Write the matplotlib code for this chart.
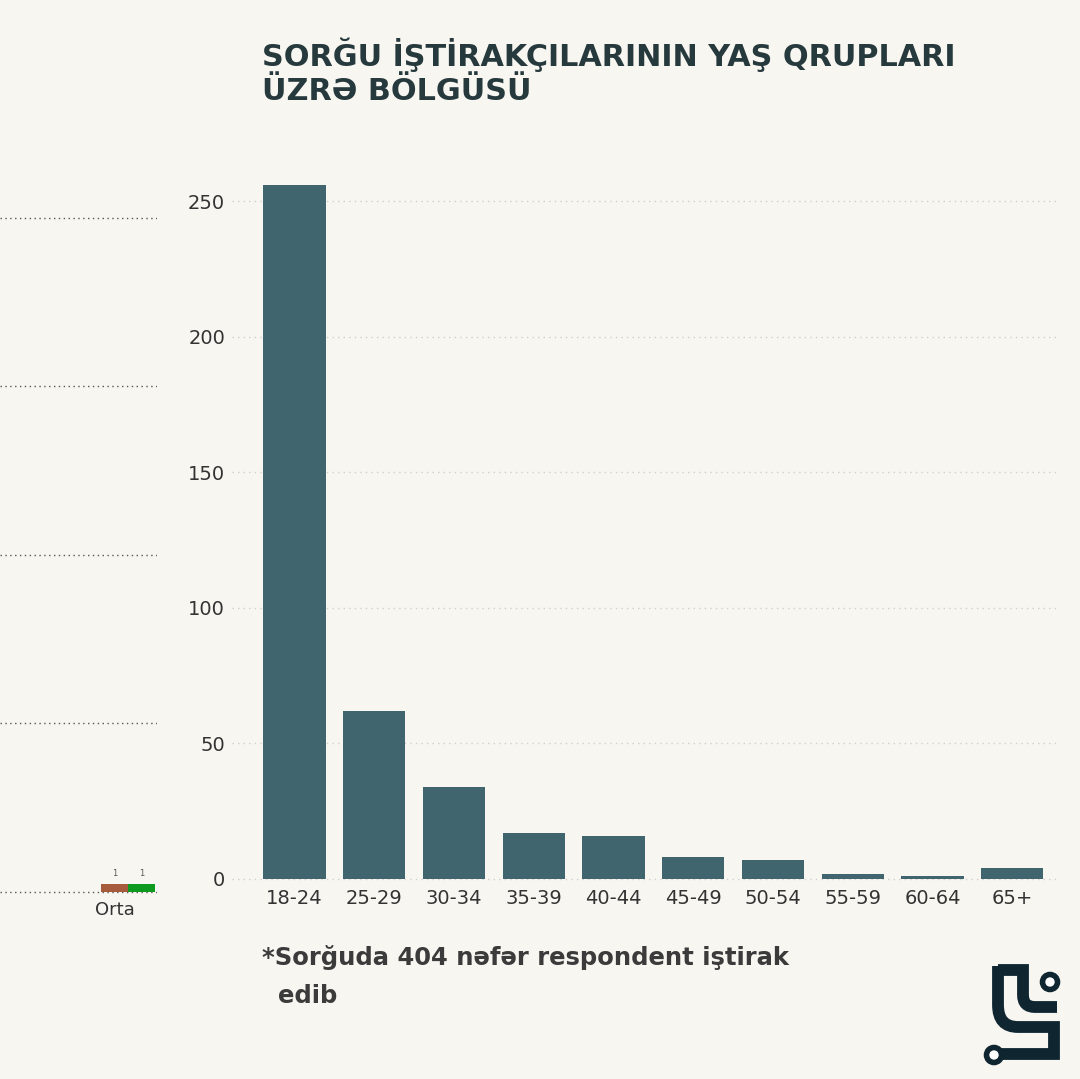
import matplotlib.pyplot as plt
from matplotlib.path import Path
from matplotlib.patches import PathPatch, Circle

# data
age_groups = ['18-24', '25-29', '30-34', '35-39', '40-44',
              '45-49', '50-54', '55-59', '60-64', '65+']
counts = [256, 62, 34, 17, 16, 8, 7, 2, 1, 4]
y_ticks = [0, 50, 100, 150, 200, 250]

# cut-off chart on the left edge
side_category = 'Orta'
side_values = [1, 1]
side_colors = ['#a65b3c', '#0e9a1e']
side_ticks = [0, 20, 40, 60, 80]

title_lines = ['SORĞU İŞTİRAKÇILARININ YAŞ QRUPLARI', 'ÜZRƏ BÖLGÜSÜ']
note_line1 = '*Sorğuda 404 nəfər respondent iştirak'
note_line2 = 'edib'

bg = '#f8f6f1'
bar_color = '#41656f'
W, H = 1080, 1079

fig = plt.figure(figsize=(W / 100, H / 100), dpi=100, facecolor=bg)


def px_axes(x0, y0, x1, y1):
    """axes from pixel box (top-left origin)"""
    return fig.add_axes([x0 / W, 1 - y1 / H, (x1 - x0) / W, (y1 - y0) / H])


# main bar chart
ax = px_axes(232, 175, 1058, 881)
ax.set_facecolor(bg)
xs = range(len(age_groups))
ax.bar(xs, counts, width=0.78, color=bar_color, zorder=3)
ax.set_xlim(-0.783, 9.575)
ax.set_ylim(-0.74, 259.6)
ax.set_yticks(y_ticks)
ax.set_xticks(list(xs))
ax.set_xticklabels(age_groups)
ax.grid(axis='y', linestyle=(0, (1, 3)), color='#cfcfcf', linewidth=1, zorder=0)
for s in ax.spines.values():
    s.set_visible(False)
ax.tick_params(axis='y', length=0, pad=5, labelsize=14, labelcolor='#333333')
ax.tick_params(axis='x', length=0, pad=6, labelsize=14, labelcolor='#333333')

# left partial chart
ax2 = px_axes(0, 180, 157, 894)
ax2.set_facecolor(bg)
ax2.bar([0, 1], side_values, width=1, color=side_colors, zorder=3)
for i, v in enumerate(side_values):
    ax2.text(i, v + 0.6, str(v), ha='center', va='bottom', fontsize=6, color='#555555')
ax2.set_xlim(-4.24, 1.574)
ax2.set_ylim(-0.24, 84.5)
ax2.set_yticks(side_ticks)
ax2.set_yticklabels([])
ax2.set_xticks([0])
ax2.set_xticklabels([side_category])
ax2.grid(axis='y', linestyle=(0, (1, 2.5)), color='#555555', linewidth=1, zorder=0)
for s in ax2.spines.values():
    s.set_visible(False)
ax2.tick_params(length=0)
ax2.tick_params(axis='x', pad=5, labelsize=13, labelcolor='#333333')

# title and note
for line, base in zip(title_lines, [66, 100]):
    fig.text(262 / W, 1 - base / H, line, ha='left', va='baseline', fontsize=21.8,
             fontweight='bold', color='#26393d')
fig.text(262 / W, 1 - 965 / H, note_line1, ha='left', va='baseline', fontsize=17.5,
         fontweight='bold', color='#3b3b3b')
fig.text(278 / W, 1 - 1003 / H, note_line2, ha='left', va='baseline', fontsize=17.5,
         fontweight='bold', color='#3b3b3b')

# logo
lax = px_axes(960, 950, 1080, 1079)
lax.set_xlim(960, 1080)
lax.set_ylim(1079, 950)
lax.axis('off')
logo_color = '#0f2530'
p1 = Path([(998, 970), (1023, 970), (1023, 995), (1023, 1007), (1035, 1007), (1057, 1007)],
          [Path.MOVETO, Path.LINETO, Path.LINETO, Path.CURVE3, Path.CURVE3, Path.LINETO])
p2 = Path([(998, 966), (998, 1005), (998, 1027), (1018, 1027), (1054, 1027),
           (1054, 1054), (1000, 1054)],
          [Path.MOVETO, Path.LINETO, Path.CURVE3, Path.CURVE3, Path.LINETO,
           Path.LINETO, Path.LINETO])
for p in (p1, p2):
    lax.add_patch(PathPatch(p, fill=False, edgecolor=logo_color, linewidth=8.5,
                            capstyle='butt', joinstyle='miter'))
for cx, cy in [(994, 1055), (1050, 982)]:
    lax.add_patch(Circle((cx, cy), 7.5, facecolor='white', edgecolor=logo_color,
                         linewidth=4))

fig.savefig('out.png', dpi=100, facecolor=bg)
